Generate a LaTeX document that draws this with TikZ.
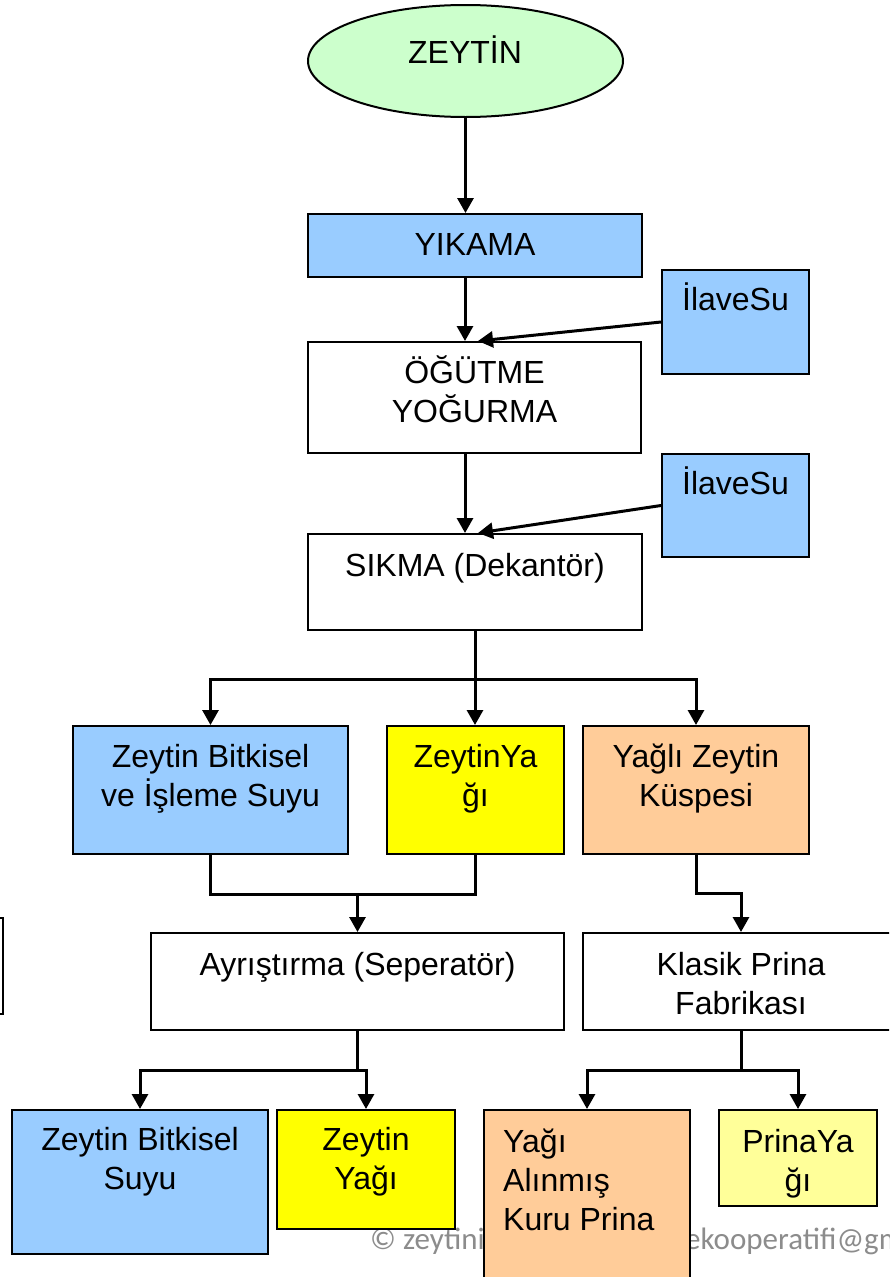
\documentclass[tikz,border=0pt]{standalone}
\usepackage{fontspec}
\setmainfont{Liberation Sans}
\newfontfamily\notefont{Carlito}
\usetikzlibrary{arrows.meta,shapes.geometric,calc}
\definecolor{waterblue}{HTML}{99CCFF}
\definecolor{oilyellow}{HTML}{FFFF00}
\definecolor{pomace}{HTML}{FFCC99}
\definecolor{paleoil}{HTML}{FFFF99}
\definecolor{olivegreen}{HTML}{CCFFCC}
\definecolor{notegray}{RGB}{140,140,140}
% multi-line labels are placed by the baseline of their last line
\tikzset{
  box/.style={draw=black, line width=2pt, rectangle, inner sep=0pt, fill=white},
  lbl/.style={font=\fontsize{32}{39}\selectfont, inner sep=0pt, align=center, anchor=base},
  lblleft/.style={font=\fontsize{32}{39}\selectfont, inner sep=0pt, align=left, anchor=base west},
  flow/.style={line width=3pt, -{Triangle[width=16pt,length=15pt]}},
  link/.style={line width=3pt},
  note/.style={font=\notefont\fontsize{31}{31}\selectfont, text=notegray, inner sep=0pt, anchor=base west},
}
\begin{document}
\begin{tikzpicture}[x=1pt,y=-1pt]
\useasboundingbox (0,0) rectangle (889,1277);
\clip (0,0) rectangle (889,1277);
\fill[white] (0,0) rectangle (889,1277);

% footer note, partly covered by the boxes
\node[note] (note1) at (370,1249) {© zeytini};
\node[note] (note2) at (685,1249) {ekooperatifi@gmail.com};

% main line
\node[ellipse, draw=black, line width=2pt, fill=olivegreen, minimum width=315, minimum height=112, inner sep=0pt] (zeytin) at (465.5,61) {};
\node[box, fill=waterblue, minimum width=334, minimum height=63] (yikama) at (475,245.5) {};
\node[box, minimum width=333, minimum height=111] (ogutme) at (474.5,397.5) {};
\node[box, fill=waterblue, minimum width=147, minimum height=104] (su1) at (735.5,322) {};
\node[box, fill=waterblue, minimum width=147, minimum height=103] (su2) at (735.5,505.5) {};
\node[box, minimum width=334, minimum height=96] (sikma) at (475,582) {};

% decanter outputs
\node[box, fill=waterblue, minimum width=275, minimum height=128] (karasu) at (210.5,790) {};
\node[box, fill=oilyellow, minimum width=177, minimum height=128] (yag1) at (475.5,790) {};
\node[box, fill=pomace, minimum width=226, minimum height=128] (kuspe) at (696,790) {};

% separator and pomace plant
\node[box, minimum width=203, minimum height=96] (solkutu) at (-98.5,966) {};
\node[box, minimum width=413, minimum height=97] (ayris) at (357.5,981.5) {};
\node[box, minimum width=316, minimum height=97] (klasik) at (741,981.5) {};

% final products
\node[box, fill=waterblue, minimum width=256, minimum height=144] (suyu) at (140,1182) {};
\node[box, fill=oilyellow, minimum width=178, minimum height=119] (yag2) at (366,1169.5) {};
\node[box, fill=pomace, minimum width=206, minimum height=190] (kuru) at (587,1205) {};
\node[box, fill=paleoil, minimum width=158, minimum height=96] (prina) at (798,1158) {};

% labels
\node[lbl] (t-zeytin) at (465,63) {ZEYTİN};
\node[lbl] (t-yikama) at (475,255) {YIKAMA};
\node[lbl] (t-ogutme) at (474.5,422) {ÖĞÜTME\\YOĞURMA};
\node[lbl] (t-su1) at (735.5,310) {İlaveSu};
\node[lbl] (t-su2) at (735.5,494) {İlaveSu};
\node[lbl] (t-sikma) at (475,576) {SIKMA (Dekantör)};
\node[lbl] (t-karasu) at (210.5,806) {Zeytin Bitkisel\\ve İşleme Suyu};
\node[lbl] (t-yag1) at (475.5,806) {ZeytinYa\\ğı};
\node[lbl] (t-kuspe) at (696,806) {Yağlı Zeytin\\Küspesi};
\node[lbl] (t-ayris) at (357.5,975) {Ayrıştırma (Seperatör)};
\node[lbl] (t-klasik) at (741,1014) {Klasik Prina\\Fabrikası};
\node[lbl] (t-suyu) at (140,1189) {Zeytin Bitkisel\\Suyu};
\node[lbl] (t-yag2) at (366,1189) {Zeytin\\Yağı};
\node[lblleft] (t-kuru) at (503,1230) {Yağı\\Alınmış\\Kuru Prina};
\node[lbl] (t-prina) at (798,1191) {PrinaYa\\ğı};

% connectors
\coordinate (axis) at (465,0);
\draw[flow] (zeytin.south) -- (zeytin.south |- yikama.north);
\draw[flow] (yikama.south -| axis) -- (ogutme.north -| axis);
\draw[flow] (su1.west) -- ($(ogutme.north -| axis)+(13,0)$);
\draw[flow] (ogutme.south -| axis) -- (sikma.north -| axis);
\draw[flow] (su2.west) -- ($(sikma.north -| axis)+(13,0)$);

\coordinate (j1) at (0,679);
\draw[link] (sikma.south) -- (sikma.south |- j1);
\draw[flow] (sikma.south |- j1) -| (karasu.north);
\draw[flow] (sikma.south |- j1) -| (kuspe.north);
\draw[flow] (sikma.south |- j1) -- (sikma.south |- yag1.north);

\coordinate (j2) at (0,894);
\draw[link] (karasu.south) |- (yag1.south |- j2) -- (yag1.south);
\draw[flow] (ayris.north |- j2) -- (ayris.north);
\draw[flow] (kuspe.south) |- ($(kuspe.south)!0.5!(klasik.north)$) -| (klasik.north);

\coordinate (j3) at (0,1070);
\draw[link] (ayris.south) -- (ayris.south |- j3);
\draw[flow] (ayris.south |- j3) -| (suyu.north);
\draw[flow] (ayris.south |- j3) -| (yag2.north);
\draw[link] (klasik.south) -- (klasik.south |- j3);
\draw[flow] (klasik.south |- j3) -| (kuru.north);
\draw[flow] (klasik.south |- j3) -| (prina.north);
\end{tikzpicture}
\end{document}
